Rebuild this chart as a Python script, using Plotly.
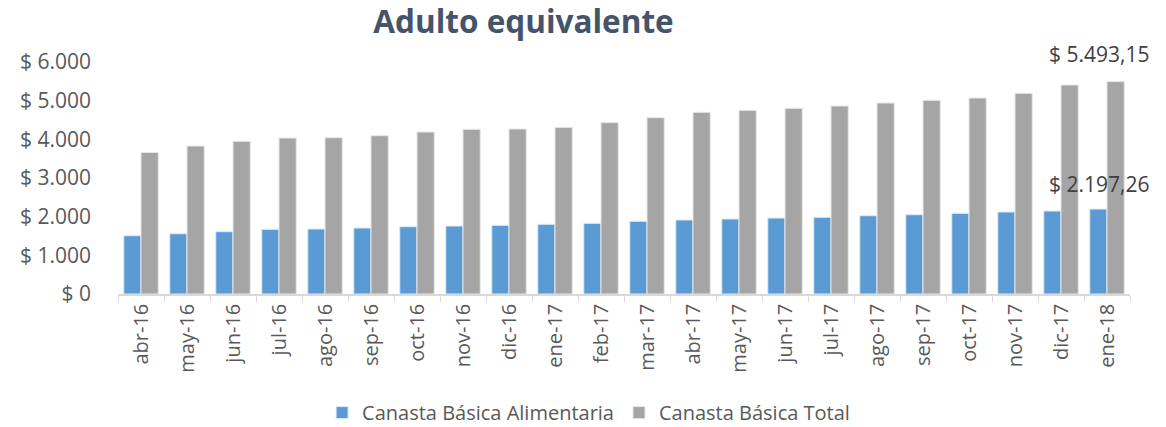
import plotly.graph_objs as go

# Months (x categories)
months = [
    "abr-16", "may-16", "jun-16", "jul-16", "ago-16", "sep-16", "oct-16",
    "nov-16", "dic-16", "ene-17", "feb-17", "mar-17", "abr-17", "may-17",
    "jun-17", "jul-17", "ago-17", "sep-17", "oct-17", "nov-17", "dic-17",
    "ene-18",
]

# Canasta Básica Alimentaria (adulto equivalente)
cba = [1508, 1559, 1611, 1672, 1681, 1707, 1741, 1758, 1776, 1802,
       1828, 1880, 1914, 1940, 1965, 1983, 2025, 2051, 2086, 2121,
       2146, 2197.26]
# Canasta Básica Total
cbt = [3660, 3827, 3949, 4034, 4042, 4094, 4189, 4259, 4267, 4310,
       4431, 4560, 4698, 4750, 4802, 4862, 4939, 5009, 5069, 5190,
       5405, 5493.15]

y_ticks = [0, 1000, 2000, 3000, 4000, 5000, 6000]
y_tick_labels = ["$ 0", "$ 1.000", "$ 2.000", "$ 3.000", "$ 4.000", "$ 5.000", "$ 6.000"]

last_cba_label = "$ 2.197,26"
last_cbt_label = "$ 5.493,15"

FONT = "Open Sans"
TXT = "#595959"

fig = go.Figure()
fig.add_trace(go.Bar(
    x=months, y=cba, name="Canasta Básica Alimentaria",
    marker=dict(color="#5B9BD5", line=dict(color="#DDEBF7", width=1)),
))
fig.add_trace(go.Bar(
    x=months, y=cbt, name="Canasta Básica Total",
    marker=dict(color="#A5A5A5", line=dict(color="#E7E7E7", width=1)),
))

# value labels for the last month
fig.add_annotation(x=months[-1], y=cbt[-1], text=last_cbt_label, showarrow=False,
                   xshift=-8, yshift=12, xanchor="center", yanchor="bottom",
                   font=dict(family=FONT, size=21, color="#404040"))
fig.add_annotation(x=months[-1], y=cba[-1], text=last_cba_label, showarrow=False,
                   xshift=-8, yshift=9, xanchor="center", yanchor="bottom",
                   font=dict(family=FONT, size=21, color="#404040"))

fig.update_layout(
    title=dict(text="<b>Adulto equivalente</b>", x=0.449, xanchor="center",
               y=0.974, yanchor="top",
               font=dict(family=FONT, size=31.5, color="#44546A")),
    width=1166, height=427,
    margin=dict(l=118, r=36, t=62, b=133, autoexpand=False),
    paper_bgcolor="white", plot_bgcolor="white",
    barmode="group", bargap=0.25, bargroupgap=0.0,
    font=dict(family=FONT, color=TXT),
    showlegend=True,
    legend=dict(orientation="h", x=0.465, xanchor="center", y=-0.427, yanchor="top",
                font=dict(family=FONT, size=20, color=TXT),
                itemwidth=30, traceorder="normal"),
    xaxis=dict(
        type="category", range=[-0.5, len(months) - 0.5],
        tickangle=-90, tickfont=dict(family=FONT, size=20, color=TXT),
        showline=True, linecolor="#D9D9D9", linewidth=1.5,
        ticks="outside", tickson="boundaries", ticklen=6, tickcolor="#D9D9D9",
        showgrid=False, fixedrange=True, automargin=False,
    ),
    yaxis=dict(
        range=[0, 6000], tickvals=y_ticks, ticktext=y_tick_labels,
        tickfont=dict(family=FONT, size=21, color=TXT),
        showgrid=False, zeroline=False, showline=False,
        ticklabelstandoff=26, fixedrange=True, automargin=False,
    ),
)

# drop the default 8px body margin so the figure fills the window exactly
fig.write_html("out.html", config={"displayModeBar": False},
               post_script="document.body.style.margin='0px';")
